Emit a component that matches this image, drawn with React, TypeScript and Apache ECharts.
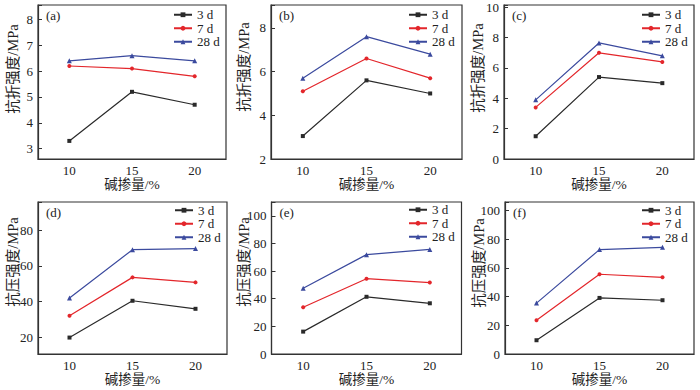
import React, { useEffect, useRef } from "react";
import * as echarts from "echarts";

const categories = ["10", "15", "20"];
const seriesNames = ["3 d", "7 d", "28 d"];
const panelLabels = ["(a)", "(b)", "(c)", "(d)", "(e)", "(f)"];
const yTitles = ["抗折强度/MPa", "抗折强度/MPa", "抗折强度/MPa", "抗压强度/MPa", "抗压强度/MPa", "抗压强度/MPa"];
const xTitle = "碱掺量/%";

// flexural strength
const a3 = [3.3, 5.2, 4.7];
const a7 = [6.2, 6.1, 5.8];
const a28 = [6.4, 6.6, 6.4];
const b3 = [3.05, 5.6, 5.0];
const b7 = [5.1, 6.6, 5.7];
const b28 = [5.7, 7.6, 6.8];
const c3 = [1.5, 5.4, 5.0];
const c7 = [3.4, 7.0, 6.4];
const c28 = [3.9, 7.65, 6.8];
// compressive strength
const d3 = [19.8, 40.4, 35.9];
const d7 = [32.0, 53.5, 50.7];
const d28 = [42.0, 69.0, 69.6];
const e3 = [16.2, 41.4, 36.7];
const e7 = [33.8, 54.5, 51.7];
const e28 = [47.6, 71.9, 75.7];
const f3 = [9.6, 39.1, 37.5];
const f7 = [23.6, 55.6, 53.5];
const f28 = [35.5, 72.8, 74.4];

const panelData = [
  [a3, a7, a28],
  [b3, b7, b28],
  [c3, c7, c28],
  [d3, d7, d28],
  [e3, e7, e28],
  [f3, f7, f28],
];

const yMin = [2.6, 2, 0, 10.6, 0, 0];
const yMax = [8.56, 9.05, 10.15, 95.7, 110, 106];
const yStep = [1, 2, 2, 20, 20, 20];
const ySetInterval = [false, true, true, false, true, true];

const grids = [
  { left: 38, top: 5, width: 188, height: 154 },
  { left: 271, top: 5, width: 191, height: 154 },
  { left: 504, top: 5, width: 190, height: 154 },
  { left: 38, top: 202, width: 189, height: 152 },
  { left: 271.5, top: 202, width: 190, height: 152 },
  { left: 505, top: 202, width: 189, height: 152 },
];
const legendPos = [
  { left: 173, top: 8 },
  { left: 408, top: 8 },
  { left: 641, top: 8 },
  { left: 174, top: 203.5 },
  { left: 408, top: 203 },
  { left: 641, top: 203.5 },
];
const yTitlePos = [
  { x: 12.5, y: 69 },
  { x: 243.5, y: 67 },
  { x: 478, y: 68 },
  { x: 12.5, y: 262 },
  { x: 243.5, y: 262 },
  { x: 478.5, y: 263 },
];

const colors = ["#2a2a2a", "#e3262b", "#3b4a9e"];
const symbols = ["rect", "circle", "triangle"];
const symbolSizes = [4, 4, 5];
const FONT = "'Liberation Serif', 'Noto Sans CJK SC', serif";
const AXIS_COLOR = "#333";

export default function App() {
  const ref = useRef<HTMLDivElement>(null);
  useEffect(() => {
    if (!ref.current) return;
    const chart = echarts.init(ref.current, undefined, { renderer: "svg" });
    const gridOpts = grids.map((g) => ({
      ...g,
      show: true,
      borderColor: AXIS_COLOR,
      borderWidth: 1.2,
      backgroundColor: "transparent",
    }));
    const xAxes = grids.map((_, i) => ({
      type: "category",
      gridIndex: i,
      data: categories,
      boundaryGap: true,
      name: xTitle,
      nameLocation: "middle",
      nameGap: 17,
      nameTextStyle: { fontFamily: FONT, fontSize: 13.5, color: "#222" },
      axisLine: { lineStyle: { color: AXIS_COLOR, width: 1.2 } },
      axisTick: { inside: true, alignWithLabel: true, length: 4, lineStyle: { color: AXIS_COLOR } },
      axisLabel: { margin: 5, fontFamily: FONT, fontSize: 13, color: "#222" },
      splitLine: { show: false },
    }));
    const yAxes = grids.map((_, i) => {
      const step = yStep[i];
      const ax: any = {
        type: "value",
        gridIndex: i,
        min: yMin[i],
        max: yMax[i],
        axisLine: { show: true, lineStyle: { color: AXIS_COLOR, width: 1.2 } },
        axisTick: { show: true, inside: true, length: 4, lineStyle: { color: AXIS_COLOR } },
        axisLabel: {
          margin: 5,
          fontFamily: FONT,
          fontSize: 13,
          color: "#222",
          formatter: (v: number) =>
            Math.abs(v / step - Math.round(v / step)) < 1e-6 ? String(Math.round(v * 100) / 100) : "",
        },
        splitLine: { show: false },
      };
      if (ySetInterval[i]) ax.interval = step;
      else ax.splitNumber = i === 0 ? 5 : 4;
      return ax;
    });
    const series: any[] = [];
    panelData.forEach((panel, i) => {
      panel.forEach((vals, k) => {
        series.push({
          type: "line",
          name: seriesNames[k],
          xAxisIndex: i,
          yAxisIndex: i,
          data: vals,
          symbol: symbols[k],
          symbolSize: symbolSizes[k],
          showSymbol: true,
          lineStyle: { color: colors[k], width: 1.2 },
          itemStyle: { color: colors[k] },
          z: 3 + k,
        });
      });
    });
    const legends = legendPos.map((p) => ({
      left: p.left,
      top: p.top,
      orient: "vertical",
      itemWidth: 18,
      itemHeight: 6,
      itemGap: 0,
      padding: 0,
      data: seriesNames,
      selectedMode: false,
      textStyle: { fontFamily: FONT, fontSize: 13, color: "#222", lineHeight: 13.5 },
    }));
    const titles = grids.map((g, i) => ({
      text: panelLabels[i],
      left: g.left + 8,
      top: g.top + 4,
      padding: 0,
      textStyle: { fontFamily: FONT, fontSize: 13, fontWeight: "normal", color: "#222" },
    }));
    const graphics = yTitlePos.map((p, i) => ({
      type: "text",
      x: p.x,
      y: p.y,
      rotation: Math.PI / 2,
      style: {
        text: yTitles[i],
        fontFamily: FONT,
        fontSize: 14.5,
        fill: "#222",
        align: "center",
        verticalAlign: "middle",
      },
    }));
    chart.setOption({
      animation: false,
      backgroundColor: "#fff",
      color: colors,
      title: titles,
      legend: legends,
      grid: gridOpts,
      xAxis: xAxes,
      yAxis: yAxes,
      series,
      graphic: graphics,
    });
    return () => chart.dispose();
  }, []);
  return (
    <div
      ref={ref}
      style={{ position: "fixed", left: 0, top: 0, width: 700, height: 390, background: "#fff" }}
    />
  );
}
